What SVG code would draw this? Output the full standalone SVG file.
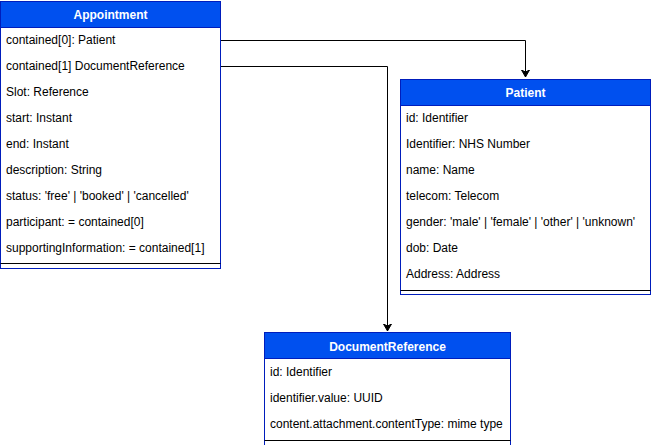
<svg xmlns="http://www.w3.org/2000/svg" width="651" height="445" viewBox="0 0 651 445">
<style>
.hdr{fill:#0050ef;stroke:#001dbc;stroke-width:1}
.body{fill:#ffffff;stroke:#001dbc;stroke-width:1}
.sep{stroke:#000;stroke-width:1}
.t{font-family:"Liberation Sans",Arial,sans-serif;font-size:12px;fill:#000}
.h{font-family:"Liberation Sans",Arial,sans-serif;font-size:12px;font-weight:bold;fill:#fff;text-anchor:middle}
.edge{fill:none;stroke:#000;stroke-width:1}
</style>
<defs>
<marker id="arr" markerWidth="10" markerHeight="10" refX="7" refY="4" orient="auto" markerUnits="userSpaceOnUse">
<path d="M0,0 L7,4 L0,8 L2,4 Z" fill="#000" stroke="#000"/>
</marker>
</defs>
<g id="connectors">
<path class="edge" d="M220.5,40.5 H525.5 V77" marker-end="url(#arr)"/>
<path class="edge" d="M220.5,66.5 H387.5 V331" marker-end="url(#arr)"/>
</g>
<g id="appointment">
<rect class="body" x="0.5" y="1.5" width="220" height="267"/>
<rect class="hdr" x="0.5" y="1.5" width="220" height="26"/>
<text class="h" x="110.5" y="19">Appointment</text>
<text class="t" x="6" y="44">contained[0]: Patient</text>
<text class="t" x="6" y="70">contained[1] DocumentReference</text>
<text class="t" x="6" y="96">Slot: Reference</text>
<text class="t" x="6" y="122">start: Instant</text>
<text class="t" x="6" y="148">end: Instant</text>
<text class="t" x="6" y="174">description: String</text>
<text class="t" x="6" y="200">status: 'free' | 'booked' | 'cancelled'</text>
<text class="t" x="6" y="226">participant: = contained[0]</text>
<text class="t" x="6" y="252">supportingInformation: = contained[1]</text>
<line class="sep" x1="0.5" y1="263.5" x2="220.5" y2="263.5"/>
</g>
<g id="patient">
<rect class="body" x="400.5" y="79.5" width="250" height="215"/>
<rect class="hdr" x="400.5" y="79.5" width="250" height="26"/>
<text class="h" x="525.5" y="97">Patient</text>
<text class="t" x="406" y="122">id: Identifier</text>
<text class="t" x="406" y="148">Identifier: NHS Number</text>
<text class="t" x="406" y="174">name: Name</text>
<text class="t" x="406" y="200">telecom: Telecom</text>
<text class="t" x="406" y="226">gender: 'male' | 'female' | 'other' | 'unknown'</text>
<text class="t" x="406" y="252">dob: Date</text>
<text class="t" x="406" y="278">Address: Address</text>
<line class="sep" x1="400.5" y1="290.5" x2="650.5" y2="290.5"/>
</g>
<g id="documentreference">
<rect class="body" x="264.5" y="332.5" width="246" height="114"/>
<rect class="hdr" x="264.5" y="332.5" width="246" height="26"/>
<text class="h" x="387.5" y="351">DocumentReference</text>
<text class="t" x="270" y="376">id: Identifier</text>
<text class="t" x="270" y="402">identifier.value: UUID</text>
<text class="t" x="270" y="428">content.attachment.contentType: mime type</text>
<line class="sep" x1="264.5" y1="440.5" x2="510.5" y2="440.5"/>
</g>
</svg>
